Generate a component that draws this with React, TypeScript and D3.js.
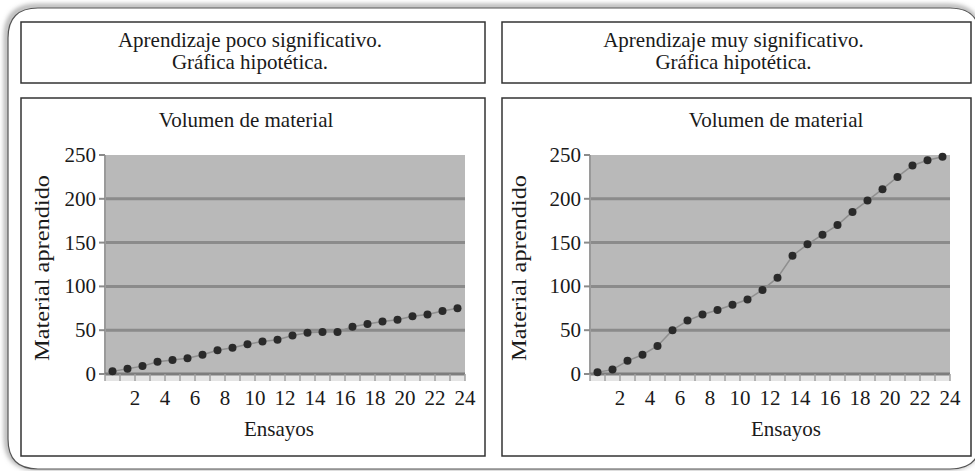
import React from "react";
import * as d3 from "d3";

const trials = [1, 2, 3, 4, 5, 6, 7, 8, 9, 10, 11, 12, 13, 14, 15, 16, 17, 18, 19, 20, 21, 22, 23, 24];
const lowSignificance = [3, 6, 9, 14, 16, 18, 22, 27, 30, 34, 37, 39, 44, 47, 48, 48, 54, 57, 60, 62, 66, 68, 72, 75];
const highSignificance = [2, 5, 15, 22, 32, 50, 61, 68, 73, 79, 85, 96, 110, 135, 148, 159, 170, 185, 198, 211, 225, 238, 244, 248];
const yTicks = [0, 50, 100, 150, 200, 250];
const xTickLabels = [2, 4, 6, 8, 10, 12, 14, 16, 18, 20, 22, 24];
const panelTitlesLow = ["Aprendizaje poco significativo.", "Gráfica hipotética."];
const panelTitlesHigh = ["Aprendizaje muy significativo.", "Gráfica hipotética."];
const chartTitle = "Volumen de material";
const xAxisTitle = "Ensayos";
const yAxisTitle = "Material aprendido";

const FONT = "Liberation Serif";
const FS = 21;

type PanelProps = {
  left: number;
  width: number;
  plotLeft: number;
  chartTitleX: number;
  xTitleX: number;
  yTitleX: number;
  titles: string[];
  values: number[];
};

function Panel({ left, width, plotLeft, chartTitleX, xTitleX, yTitleX, titles, values }: PanelProps) {
  const plotTop = 155;
  const plotBottom = 374;
  const plotW = 360;
  const x = d3.scaleBand<number>().domain(trials).range([plotLeft, plotLeft + plotW]).padding(0);
  const y = d3.scaleLinear().domain([0, 250]).range([plotBottom, plotTop]);
  const bw = x.bandwidth();
  const cx = (t: number) => (x(t) as number) + bw / 2;
  const data = trials.map((t, i) => ({ t, v: values[i] }));
  const line = d3
    .line<{ t: number; v: number }>()
    .x((d) => cx(d.t))
    .y((d) => y(d.v));
  const edges = [...trials.map((t) => x(t) as number), plotLeft + plotW];
  const titleCenter = left + width / 2;
  const ts = { fontFamily: FONT, fontSize: FS, fill: "#1a1a1a" };

  return (
    <g>
      <rect x={left} y={22} width={width} height={61} fill="#fff" stroke="#333" strokeWidth={1.5} />
      <text style={ts} x={titleCenter - 3} y={47} textAnchor="middle">{titles[0]}</text>
      <text style={ts} x={titleCenter - 3} y={69} textAnchor="middle">{titles[1]}</text>

      <rect x={left} y={98} width={width} height={358} fill="#fff" stroke="#333" strokeWidth={1.5} />
      <text style={ts} x={chartTitleX} y={127} textAnchor="middle">{chartTitle}</text>

      <rect x={plotLeft} y={plotTop} width={plotW} height={plotBottom - plotTop} fill="#b9b9b9" />
      <rect x={plotLeft} y={plotBottom} width={plotW} height={7} fill="#e4e4e4" />
      {yTicks.slice(1, -1).map((v) => (
        <line key={v} x1={plotLeft} x2={plotLeft + plotW} y1={y(v)} y2={y(v)} stroke="#8b8b8b" strokeWidth={3} />
      ))}
      <line x1={plotLeft} x2={plotLeft} y1={plotTop} y2={plotBottom} stroke="#9a9a9a" strokeWidth={2} />
      {yTicks.map((v) => (
        <g key={v}>
          <line x1={plotLeft - 6} x2={plotLeft} y1={y(v)} y2={y(v)} stroke="#8b8b8b" strokeWidth={2} />
          <text style={ts} x={plotLeft - 9} y={y(v)} dy="0.33em" textAnchor="end">{v}</text>
        </g>
      ))}
      <line x1={plotLeft} x2={plotLeft + plotW} y1={plotBottom} y2={plotBottom} stroke="#7d7d7d" strokeWidth={3} />
      {edges.map((e, i) => (
        <line key={i} x1={e} x2={e} y1={plotBottom} y2={plotBottom + 7} stroke="#a0a0a0" strokeWidth={1.5} />
      ))}
      {trials.filter((t) => xTickLabels.includes(t)).map((t) => (
        <text style={ts} key={t} x={(x(t) as number) + bw} y={405} textAnchor="middle">{t}</text>
      ))}
      <text style={ts} x={xTitleX} y={436} textAnchor="middle">{xAxisTitle}</text>
      <text
        style={ts}
        transform={`translate(${yTitleX},${268}) rotate(-90)`}
        textAnchor="middle"
        dy="0.35em"
        textLength={186}
        lengthAdjust="spacingAndGlyphs"
      >
        {yAxisTitle}
      </text>

      <path d={line(data) || ""} fill="none" stroke="#8f8f8f" strokeWidth={1.5} />
      {data.map((d) => (
        <circle key={d.t} cx={cx(d.t)} cy={y(d.v)} r={4} fill="#2b2b2b" filter="url(#soft)" />
      ))}
    </g>
  );
}

export default function App() {
  const W = 975;
  const H = 471;
  const outerPath = `M 38 8 L 950 8 Q 980 8 980 38 L 980 441 Q 980 469 950 469 L 38 469 Q 8 469 8 439 L 8 38 Q 8 8 38 8 Z`;
  return (
    <svg width={W} height={H} style={{ position: "absolute", left: 0, top: 0, background: "#fff" }}>
      <defs>
        <filter id="shadow" x="-5%" y="-5%" width="110%" height="110%">
          <feGaussianBlur stdDeviation="2.5" />
        </filter>
        <filter id="soft" x="-50%" y="-50%" width="200%" height="200%">
          <feGaussianBlur stdDeviation="0.7" />
        </filter>
      </defs>
      <path d={outerPath} fill="none" stroke="#9a9a9a" strokeWidth={4} filter="url(#shadow)" transform="translate(-1.5,-1.5)" />
      <path d={outerPath} fill="#fff" stroke="#555" strokeWidth={1.2} />
      <Panel
        left={21}
        width={464}
        plotLeft={105}
        chartTitleX={246}
        xTitleX={279}
        yTitleX={42}
        titles={panelTitlesLow}
        values={lowSignificance}
      />
      <Panel
        left={502}
        width={469}
        plotLeft={590}
        chartTitleX={776}
        xTitleX={786}
        yTitleX={519}
        titles={panelTitlesHigh}
        values={highSignificance}
      />
    </svg>
  );
}
